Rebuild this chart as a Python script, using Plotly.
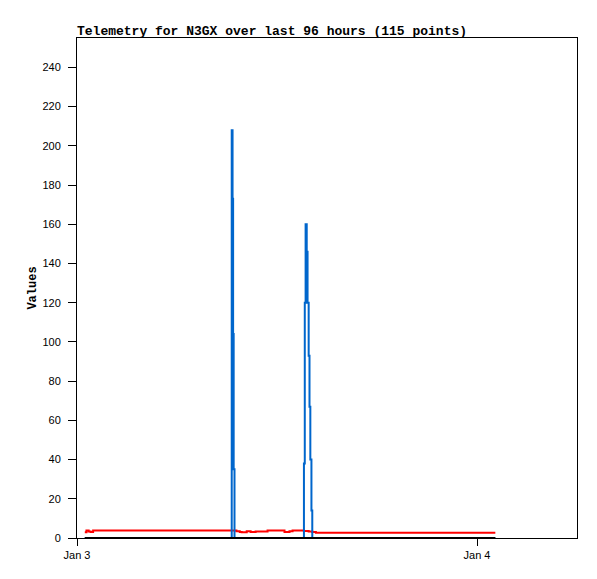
import plotly.graph_objects as go

times = [
    "2024-01-03 00:28", "2024-01-03 00:34", "2024-01-03 00:42", "2024-01-03 00:49", "2024-01-03 00:58",
    "2024-01-03 01:30", "2024-01-03 02:00", "2024-01-03 02:30", "2024-01-03 03:00", "2024-01-03 03:30",
    "2024-01-03 04:00", "2024-01-03 04:30", "2024-01-03 05:00", "2024-01-03 05:30", "2024-01-03 06:00",
    "2024-01-03 06:30", "2024-01-03 07:00", "2024-01-03 07:30", "2024-01-03 08:00", "2024-01-03 08:30",
    "2024-01-03 09:00", "2024-01-03 09:10",
    "2024-01-03 09:17", "2024-01-03 09:20", "2024-01-03 09:22", "2024-01-03 09:24", "2024-01-03 09:27",
    "2024-01-03 09:34", "2024-01-03 09:46", "2024-01-03 09:53", "2024-01-03 10:11", "2024-01-03 10:25",
    "2024-01-03 10:43", "2024-01-03 11:00", "2024-01-03 11:26", "2024-01-03 11:45", "2024-01-03 12:00",
    "2024-01-03 12:15", "2024-01-03 12:27", "2024-01-03 12:45", "2024-01-03 12:56", "2024-01-03 13:15",
    "2024-01-03 13:30",
    "2024-01-03 13:37", "2024-01-03 13:40", "2024-01-03 13:43", "2024-01-03 13:47", "2024-01-03 13:50",
    "2024-01-03 13:54", "2024-01-03 13:57", "2024-01-03 14:00", "2024-01-03 14:04", "2024-01-03 14:07",
    "2024-01-03 14:20", "2024-01-03 14:30", "2024-01-03 15:00", "2024-01-03 15:30", "2024-01-03 16:00",
    "2024-01-03 16:30", "2024-01-03 17:00", "2024-01-03 17:30", "2024-01-03 18:00", "2024-01-03 18:30",
    "2024-01-03 19:00", "2024-01-03 19:30", "2024-01-03 20:00", "2024-01-03 20:30", "2024-01-03 21:00",
    "2024-01-03 21:30", "2024-01-03 22:00", "2024-01-03 22:30", "2024-01-03 23:00", "2024-01-03 23:30",
    "2024-01-04 00:00", "2024-01-04 00:30", "2024-01-04 01:06",
]

red_values = [
    2.9, 3.8, 3.3, 3.0, 3.8,
    3.8, 3.8, 3.8, 3.8, 3.8,
    3.8, 3.8, 3.8, 3.8, 3.8,
    3.8, 3.8, 3.8, 3.8, 3.8,
    3.8, 3.8,
    3.8, 3.8, 3.8, 3.8, 3.8,
    3.5, 3.1, 2.9, 3.5, 3.0,
    3.3, 3.3, 3.8, 3.8, 3.8,
    3.8, 3.0, 3.4, 3.8, 3.8,
    3.8,
    3.6, 3.6, 3.6, 3.6, 3.6,
    3.3, 3.3, 3.3, 3.3, 3.0,
    2.7, 2.7, 2.7, 2.7, 2.7,
    2.7, 2.7, 2.7, 2.7, 2.7,
    2.7, 2.7, 2.7, 2.7, 2.7,
    2.7, 2.7, 2.7, 2.7, 2.7,
    2.7, 2.7, 2.7,
]

blue_values = [
    0, 0, 0, 0, 0,
    0, 0, 0, 0, 0,
    0, 0, 0, 0, 0,
    0, 0, 0, 0, 0,
    0, 0,
    208, 173, 104, 35, 0,
    0, 0, 0, 0, 0,
    0, 0, 0, 0, 0,
    0, 0, 0, 0, 0,
    0,
    38, 120, 160, 146, 120,
    93, 67, 40, 14, 0,
    0, 0, 0, 0, 0,
    0, 0, 0, 0, 0,
    0, 0, 0, 0, 0,
    0, 0, 0, 0, 0,
    0, 0, 0,
]

black_values = [
    0, 0, 0, 0, 0,
    0, 0, 0, 0, 0,
    0, 0, 0, 0, 0,
    0, 0, 0, 0, 0,
    0, 0,
    0, 0, 0, 0, 0,
    0, 0, 0, 0, 0,
    0, 0, 0, 0, 0,
    0, 0, 0, 0, 0,
    0,
    0, 0, 0, 0, 0,
    0, 0, 0, 0, 0,
    0, 0, 0, 0, 0,
    0, 0, 0, 0, 0,
    0, 0, 0, 0, 0,
    0, 0, 0, 0, 0,
    0, 0, 0,
]

y_ticks = [0, 20, 40, 60, 80, 100, 120, 140, 160, 180, 200, 220, 240]
x_range = ["2024-01-03 00:00", "2024-01-04 06:00"]
y_range = [0, 255]

title_text = "Telemetry for N3GX over last 96 hours (115 points)"

fig = go.Figure()
fig.add_trace(go.Scatter(x=times, y=red_values, mode="lines", line=dict(color="#ff0000", width=2, shape="hv"), hoverinfo="skip"))
fig.add_trace(go.Scatter(x=times, y=blue_values, mode="lines", line=dict(color="#0066cc", width=2, shape="hv"), hoverinfo="skip"))
fig.add_trace(go.Scatter(x=times, y=black_values, mode="lines", line=dict(color="#000000", width=2, shape="hv"), hoverinfo="skip"))

fig.update_layout(
    width=597, height=579,
    margin=dict(l=77, r=20, t=38, b=41),
    paper_bgcolor="white", plot_bgcolor="white",
    showlegend=False,
    title=dict(text="<b>" + title_text + "</b>", x=77 / 597, xanchor="left", xref="container",
               y=1 - 30.5 / 579, yanchor="middle",
               font=dict(family="Liberation Mono", size=13, color="black")),
)
fig.update_xaxes(
    type="date", range=x_range, tick0="2024-01-03", dtick=86400000, tickformat="%b %-d",
    showgrid=False, zeroline=False, showline=True, linecolor="black", linewidth=1, mirror=True,
    ticks="outside", ticklen=7, tickcolor="black", tickwidth=1,
    tickfont=dict(family="Liberation Sans", size=11, color="black"),
)
fig.update_yaxes(
    range=y_range, tickmode="array", tickvals=y_ticks,
    showgrid=False, zeroline=False, showline=True, linecolor="black", linewidth=1, mirror=True,
    ticks="outside", ticklen=8, tickcolor="black", tickwidth=1, ticklabelstandoff=5,
    tickfont=dict(family="Liberation Sans", size=11, color="black"),
    title=dict(text="<b>Values</b>", standoff=3, font=dict(family="Liberation Mono", size=12, color="black")),
)

fig.write_html("out.html", config={"displayModeBar": False},
               post_script="document.body.style.margin='0px';")
